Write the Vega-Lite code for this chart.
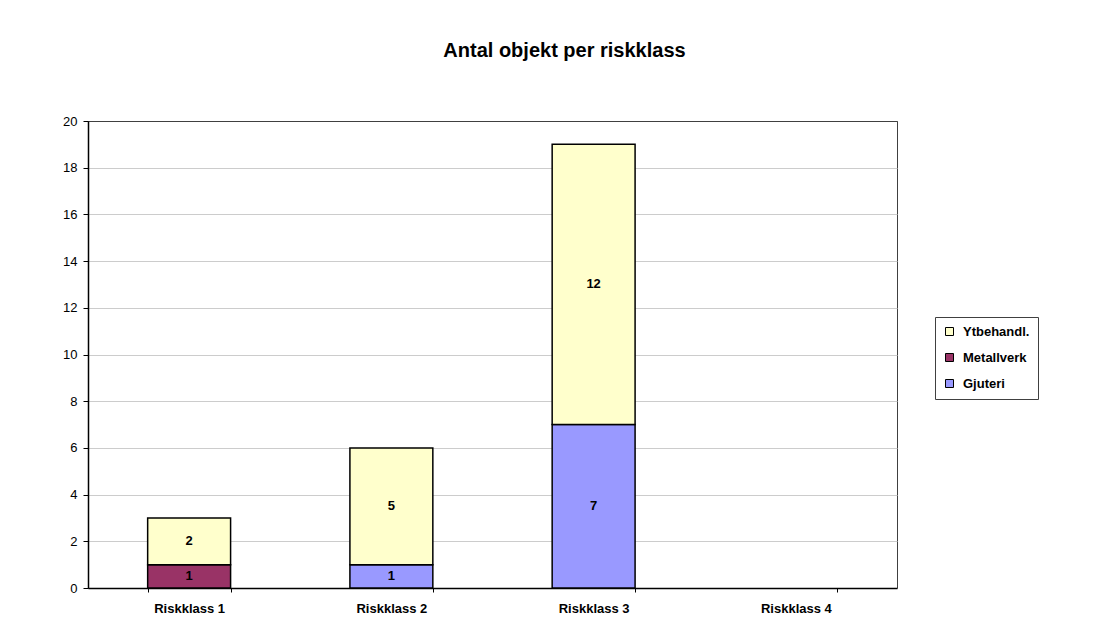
{
  "$schema": "https://vega.github.io/schema/vega-lite/v6.json",
  "width": 809,
  "height": 467,
  "autosize": "none",
  "padding": {"left": 88, "top": 121, "right": 209, "bottom": 51},
  "background": "white",
  "config": {
    "view": {"stroke": "#404040", "strokeWidth": 1},
    "font": "Liberation Sans"
  },
  "title": {
    "text": "Antal objekt per riskklass",
    "font": "Liberation Sans",
    "fontSize": 20,
    "fontWeight": "bold",
    "color": "black",
    "anchor": "middle",
    "baseline": "alphabetic",
    "dx": 72,
    "offset": 38
  },
  "data": {
    "values": [
      {"klass": "Riskklass 1", "grupp": "Metallverk", "antal": 1},
      {"klass": "Riskklass 1", "grupp": "Ytbehandl.", "antal": 2},
      {"klass": "Riskklass 2", "grupp": "Gjuteri", "antal": 1},
      {"klass": "Riskklass 2", "grupp": "Ytbehandl.", "antal": 5},
      {"klass": "Riskklass 3", "grupp": "Gjuteri", "antal": 7},
      {"klass": "Riskklass 3", "grupp": "Ytbehandl.", "antal": 12}
    ]
  },
  "encoding": {
    "x": {
      "field": "klass",
      "type": "nominal",
      "scale": {
        "domain": ["Riskklass 1", "Riskklass 2", "Riskklass 3", "Riskklass 4"],
        "paddingInner": 0.59,
        "paddingOuter": 0.295
      },
      "axis": {
        "title": null,
        "labelAngle": 0,
        "labelFont": "Liberation Sans",
        "labelFontSize": 13,
        "labelFontWeight": "bold",
        "labelColor": "black",
        "labelPadding": 10,
        "tickBand": "extent",
        "tickSize": 4,
        "tickColor": "black",
        "domainColor": "black",
        "domainWidth": 1.5,
        "grid": false
      }
    }
  },
  "layer": [
    {
      "mark": {"type": "bar", "stroke": "black", "strokeWidth": 1.5},
      "encoding": {
        "y": {
          "field": "antal",
          "type": "quantitative",
          "stack": "zero",
          "scale": {"domain": [0, 20], "nice": false},
          "axis": {
            "title": null,
            "values": [0, 2, 4, 6, 8, 10, 12, 14, 16, 18, 20],
            "labelFont": "Liberation Sans",
            "labelFontSize": 13,
            "labelColor": "black",
            "labelPadding": 6,
            "tickSize": 5,
            "tickColor": "black",
            "domainColor": "black",
            "domainWidth": 1.5,
            "grid": true,
            "gridColor": {"condition": {"test": "datum.value === 20", "value": "#404040"}, "value": "#cccccc"},
            "gridWidth": 1
          }
        },
        "color": {
          "field": "grupp",
          "type": "nominal",
          "scale": {
            "domain": ["Ytbehandl.", "Metallverk", "Gjuteri"],
            "range": ["#FFFFCC", "#993366", "#9999FF"]
          },
          "legend": {
            "title": null,
            "orient": "none",
            "legendX": 847,
            "legendY": 196,
            "direction": "vertical",
            "strokeColor": "#404040",
            "fillColor": "white",
            "padding": 8,
            "symbolType": "square",
            "symbolSize": 64,
            "symbolStrokeColor": "black",
            "symbolStrokeWidth": 1,
            "labelFont": "Liberation Sans",
            "labelFontSize": 13,
            "labelFontWeight": "bold",
            "labelColor": "black",
            "labelOffset": 7,
            "rowPadding": 12
          }
        },
        "order": {"field": "grupp", "type": "nominal", "sort": "ascending"}
      }
    },
    {
      "mark": {
        "type": "text",
        "font": "Liberation Sans",
        "fontSize": 13,
        "fontWeight": "bold",
        "color": "black",
        "baseline": "middle"
      },
      "encoding": {
        "y": {"field": "antal", "type": "quantitative", "stack": "zero", "bandPosition": 0.5},
        "text": {"field": "antal", "type": "quantitative"},
        "detail": {"field": "grupp", "type": "nominal"},
        "order": {"field": "grupp", "type": "nominal", "sort": "ascending"}
      }
    }
  ]
}
